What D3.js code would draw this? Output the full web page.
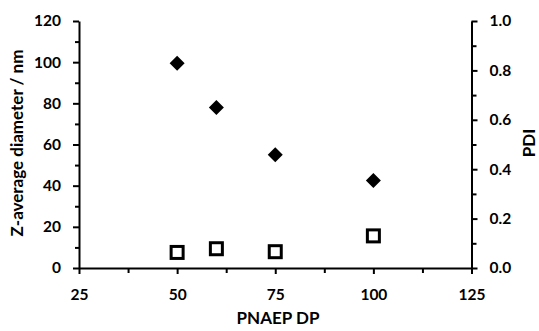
<!DOCTYPE html>
<html><head><meta charset="utf-8">
<script src="https://cdn.jsdelivr.net/npm/d3@7"></script>
<style>
body{margin:0;background:#fff;}
svg text{font-family:Lato,"Open Sans",sans-serif;font-weight:bold;fill:#000;}
</style></head>
<body><svg id="c" width="539" height="331"></svg>
<script>
const dp = [50, 60, 75, 100];
const zAverage = [99.5, 78, 55, 42.5];
const pdi = [0.063, 0.078, 0.066, 0.13];
const xTicks = [25, 50, 75, 100, 125];
const xMinor = [37.5, 62.5, 87.5, 112.5];
const yLeftTicks = [0, 20, 40, 60, 80, 100, 120];
const yLeftMinor = [10, 30, 50, 70, 90, 110];
const yRightTicks = [0, 0.2, 0.4, 0.6, 0.8, 1.0];
const yRightMinor = [0.1, 0.3, 0.5, 0.7, 0.9];

const svg = d3.select("#c");
const x = d3.scaleLinear().domain([25,125]).range([79,471.5]);
const yL = d3.scaleLinear().domain([0,120]).range([268,21]);
const yR = d3.scaleLinear().domain([0,1]).range([268,21]);

function style(g){
  g.select(".domain").attr("stroke","#000").attr("stroke-width",2);
  g.selectAll(".tick line").attr("stroke","#000").attr("stroke-width",2);
  g.selectAll(".tick text").attr("font-size",15.5);
}
// minor ticks
svg.append("g").attr("transform","translate(0,268)")
  .call(d3.axisBottom(x).tickValues(xMinor).tickSize(5).tickFormat(""))
  .call(style).select(".domain").remove();
svg.append("g").attr("transform","translate(79,0)")
  .call(d3.axisLeft(yL).tickValues(yLeftMinor).tickSize(4).tickFormat(""))
  .call(style).select(".domain").remove();
svg.append("g").attr("transform","translate(471.5,0)")
  .call(d3.axisRight(yR).tickValues(yRightMinor).tickSize(5).tickFormat(""))
  .call(style).select(".domain").remove();
// major
svg.append("g").attr("transform","translate(0,268)")
  .call(d3.axisBottom(x).tickValues(xTicks).tickSize(6).tickSizeOuter(0).tickPadding(15).tickFormat(d3.format("d")))
  .call(style);
svg.append("g").attr("transform","translate(79,0)")
  .call(d3.axisLeft(yL).tickValues(yLeftTicks).tickSize(6).tickSizeOuter(0).tickPadding(12).tickFormat(d3.format("d")))
  .call(style);
svg.append("g").attr("transform","translate(471.5,0)")
  .call(d3.axisRight(yR).tickValues(yRightTicks).tickSize(6).tickSizeOuter(0).tickPadding(12).tickFormat(d3.format(".1f")))
  .call(style);

// titles
svg.append("text").attr("x",278).attr("y",323.5).attr("text-anchor","middle").attr("font-size",17).text("PNAEP DP");
svg.append("text").attr("transform","translate(22.5,143) rotate(-90)").attr("text-anchor","middle").attr("font-size",17).text("Z-average diameter / nm");
svg.append("text").attr("transform","translate(535,143) rotate(-90)").attr("text-anchor","middle").attr("font-size",17).text("PDI");

// markers
const h = 7.5;
svg.append("g").selectAll("path").data(dp).join("path")
  .attr("transform",(d,i)=>`translate(${x(d)},${yL(zAverage[i])})`)
  .attr("d",`M0,${-h}L${h},0L0,${h}L${-h},0Z`).attr("fill","#000");
svg.append("g").selectAll("rect").data(dp).join("rect")
  .attr("x",d=>x(d)-6).attr("y",(d,i)=>yR(pdi[i])-6)
  .attr("width",12).attr("height",12)
  .attr("fill","#fff").attr("stroke","#000").attr("stroke-width",3);
</script></body></html>
